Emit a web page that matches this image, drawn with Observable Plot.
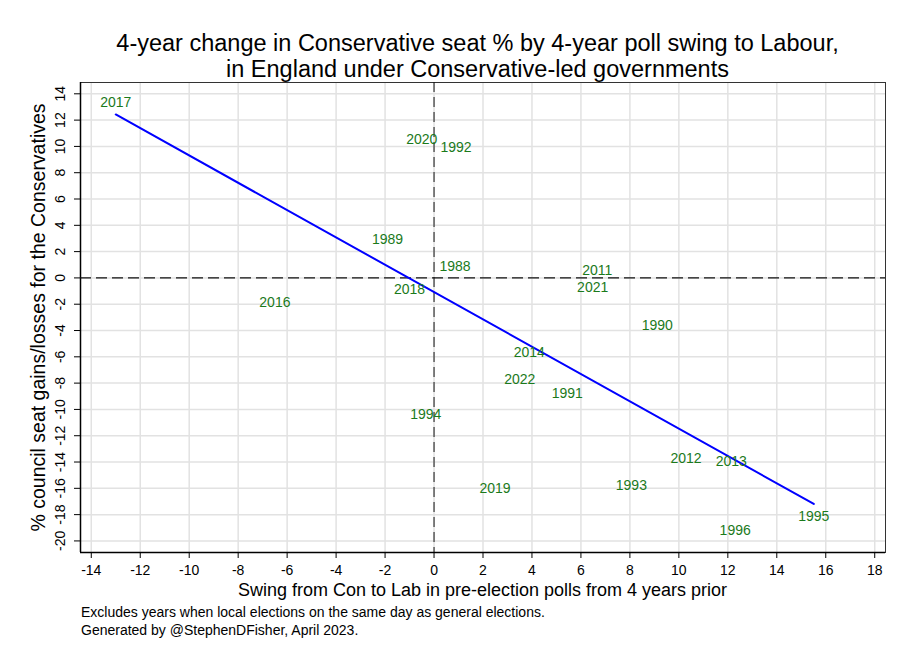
<!DOCTYPE html>
<html>
<head>
<meta charset="utf-8">
<script src="https://cdn.jsdelivr.net/npm/d3@7"></script>
<script src="https://cdn.jsdelivr.net/npm/@observablehq/plot@0.6"></script>
<style>
  html, body { margin: 0; padding: 0; background: #fff; }
  body { width: 910px; height: 662px; position: relative; overflow: hidden; font-family: "Liberation Sans", Arial, Helvetica, sans-serif; }
  #chart { position: absolute; left: 0; top: 0; }
  .title { position: absolute; left: 0; top: 30px; width: 955px; text-align: center; font-size: 23.5px; line-height: 26px; color: #000; white-space: nowrap; }
  .xtitle { position: absolute; left: 80px; width: 805px; text-align: center; font-size: 18px; line-height: 20px; color: #000; white-space: nowrap; }
  .note { position: absolute; left: 81px; font-size: 14px; line-height: 18px; color: #000; white-space: nowrap; }
</style>
</head>
<body>
<div id="chart"></div>
<div class="title">4-year change in Conservative seat % by 4-year poll swing to Labour,<br>in England under Conservative-led governments</div>
<div class="xtitle" style="top:580px">Swing from Con to Lab in pre-election polls from 4 years prior</div>
<div class="note" style="top:603px">Excludes years when local elections on the same day as general elections.<br>Generated by @StephenDFisher, April 2023.</div>
<script>
// Data
const years = [2017, 2020, 1992, 1989, 1988, 2018, 2016, 2011, 2021, 1990,
               2014, 2022, 1991, 1994, 2012, 2013, 2019, 1993, 1995, 1996];
const swing = [-13.0, -0.5, 0.9, -1.9, 0.86, -1.0, -6.5, 6.67, 6.48, 9.12,
               3.89, 3.5, 5.44, -0.34, 10.29, 12.14, 2.49, 8.06, 15.51, 12.30];
const seatChange = [13.3, 10.5, 9.9, 2.9, 0.86, -0.9, -1.9, 0.53, -0.76, -3.65,
                    -5.66, -7.73, -8.82, -10.42, -13.77, -13.97, -16.05, -15.79, -18.18, -19.22];
const xTicks = [-14, -12, -10, -8, -6, -4, -2, 0, 2, 4, 6, 8, 10, 12, 14, 16, 18];
const yTicks = [-20, -18, -16, -14, -12, -10, -8, -6, -4, -2, 0, 2, 4, 6, 8, 10, 12, 14];
const xDomain = [-14.44, 18.44];
const yDomain = [-20.88, 14.86];
const yTitle = "% council seat gains/losses for the Conservatives";

const data = years.map((yr, i) => ({year: String(yr), swing: swing[i], change: seatChange[i]}));
const fmt = d => (d < 0 ? "-" : "") + Math.abs(d);
const green = "#1b7a1b";

const plot = Plot.plot({
  width: 910,
  height: 662,
  marginLeft: 80,
  marginRight: 25,
  marginTop: 82,
  marginBottom: 110,
  style: {fontFamily: '"Liberation Sans", Arial, Helvetica, sans-serif', background: "#fff", color: "#000"},
  x: {domain: xDomain, label: null},
  y: {domain: yDomain, label: null},
  marks: [
    Plot.gridX(xTicks, {stroke: "#e2e2e2", strokeOpacity: 1, strokeWidth: 1.5}),
    Plot.gridY(yTicks, {stroke: "#e2e2e2", strokeOpacity: 1, strokeWidth: 1.5}),
    Plot.frame({stroke: "#333", strokeWidth: 1}),
    Plot.ruleX([xDomain[0]], {stroke: "#000", strokeWidth: 1.5}),
    Plot.ruleY([yDomain[0]], {stroke: "#000", strokeWidth: 1.5}),
    Plot.ruleY([0], {stroke: "#111", strokeWidth: 1.2, strokeDasharray: "11,5"}),
    Plot.ruleX([0], {stroke: "#111", strokeWidth: 1, strokeDasharray: "10,5"}),
    Plot.linearRegressionY(data, {x: "swing", y: "change", stroke: "#0000ff", strokeWidth: 2, ci: 0}),
    Plot.text(data, {x: "swing", y: "change", text: "year", fill: green, fontSize: 14}),
    Plot.axisX(xTicks, {tickSize: 6, tickPadding: 7, fontSize: 14, tickFormat: fmt, label: null, stroke: "#000"}),
    Plot.axisY(yTicks, {tickSize: 6, text: null, label: null, stroke: "#000"}),
    Plot.text(yTicks, {y: d => d, text: d => fmt(d), frameAnchor: "left", textAnchor: "middle", dx: -20, rotate: -90, fontSize: 14, fill: "#000"}),
    Plot.text([yTitle], {text: d => d, frameAnchor: "left", textAnchor: "middle", dx: -42, rotate: -90, fontSize: 19.5, fill: "#000"})
  ]
});
document.getElementById("chart").appendChild(plot);
</script>
</body>
</html>
